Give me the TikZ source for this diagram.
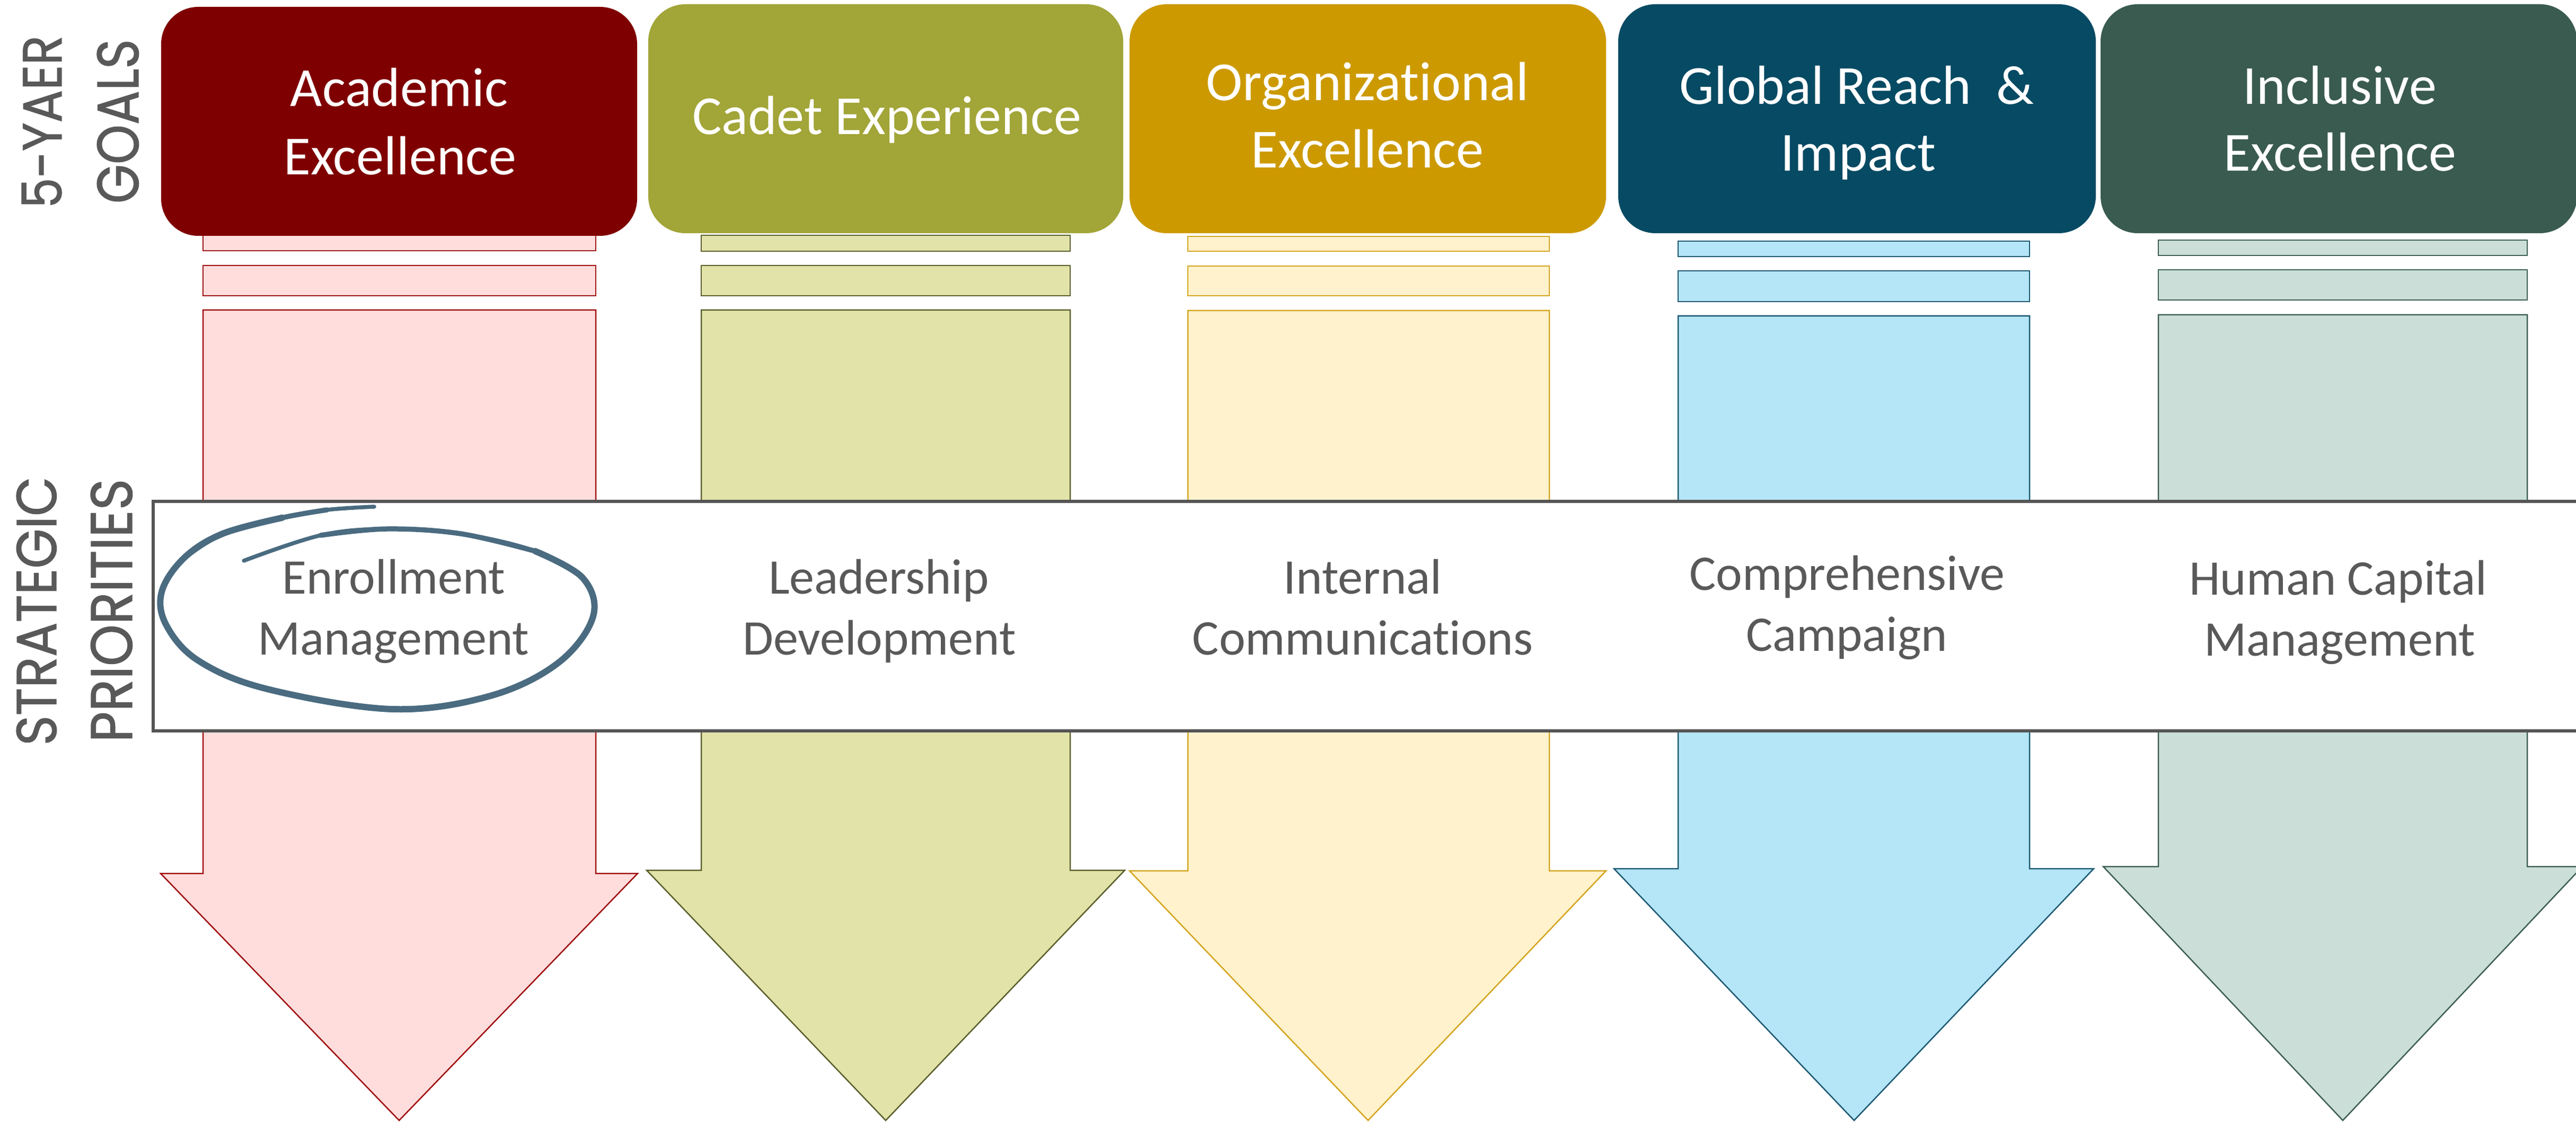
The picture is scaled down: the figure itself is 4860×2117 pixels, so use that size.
\documentclass[tikz,border=0pt]{standalone}
\usepackage{fontspec}
\usepackage{graphicx}
\setmainfont{Carlito}[Ligatures=NoCommon]
\newfontfamily\gothic[FakeBold=1.2]{Poppins}
\definecolor{txtgray}{HTML}{595959}
\definecolor{frame}{HTML}{555555}
\definecolor{swooshc}{HTML}{4A6B80}
\definecolor{gA}{HTML}{7F0000}
\definecolor{gB}{HTML}{A2A537}
\definecolor{gC}{HTML}{CC9A00}
\definecolor{gD}{HTML}{074A63}
\definecolor{gE}{HTML}{3A5B4F}
\definecolor{fA}{HTML}{FFDDDD}
\definecolor{dA}{HTML}{A01010}
\definecolor{fB}{HTML}{E1E3A9}
\definecolor{dB}{HTML}{5B5F2B}
\definecolor{fC}{HTML}{FFF2CC}
\definecolor{dC}{HTML}{D4A520}
\definecolor{fD}{HTML}{B4E6F7}
\definecolor{dD}{HTML}{1E5A73}
\definecolor{fE}{HTML}{CBDED8}
\definecolor{dE}{HTML}{3E5F55}
\begin{document}
\begin{tikzpicture}[x=0.2pt,y=-0.2pt,
  goalbox/.style={rounded corners=14pt, draw=none},
  arrA/.style={fill=fA, draw=dA, line width=0.5pt},
  arrB/.style={fill=fB, draw=dB, line width=0.5pt},
  arrC/.style={fill=fC, draw=dC, line width=0.5pt},
  arrD/.style={fill=fD, draw=dD, line width=0.5pt},
  arrE/.style={fill=fE, draw=dE, line width=0.5pt},
  goaltext/.style={text=white, font=\fontsize{20.8}{25}\selectfont, anchor=base, inner sep=0pt},
  priotext/.style={text=txtgray, font=\fontsize{18.8}{23}\selectfont, anchor=base, inner sep=0pt},
  sidelabel/.style={text=txtgray, rotate=90, anchor=base, inner sep=0pt},
  swoosh/.style={draw=swooshc, line cap=round, line join=round}
]
\useasboundingbox (0,0) rectangle (4860,2117);
\clip (0,0) rectangle (4860,2117);

% column 1 arrow
\path[arrA] (383,441) rectangle (1124,473);
\path[arrA] (383,501) rectangle (1124,558);
\path[arrA] (383,585) -- (1124,585) -- (1124,1648) -- (1203,1648) -- (753,2114) -- (303,1648) -- (383,1648) -- cycle;
% column 2 arrow
\path[arrB] (1323,444) rectangle (2019,474);
\path[arrB] (1323,501) rectangle (2019,558);
\path[arrB] (1323,585) -- (2019,585) -- (2019,1642) -- (2122,1642) -- (1671,2114) -- (1220,1642) -- (1323,1642) -- cycle;
% column 3 arrow
\path[arrC] (2241,446) rectangle (2923,474);
\path[arrC] (2241,502) rectangle (2923,558);
\path[arrC] (2241,586) -- (2923,586) -- (2923,1643) -- (3030,1643) -- (2581,2114) -- (2131,1643) -- (2241,1643) -- cycle;
% column 4 arrow
\path[arrD] (3166,455) rectangle (3829,484);
\path[arrD] (3166,511) rectangle (3829,569);
\path[arrD] (3166,596) -- (3829,596) -- (3829,1639) -- (3950,1639) -- (3498,2114) -- (3045,1639) -- (3166,1639) -- cycle;
% column 5 arrow
\path[arrE] (4072,453) rectangle (4768,482);
\path[arrE] (4072,509) rectangle (4768,566);
\path[arrE] (4072,594) -- (4768,594) -- (4768,1635) -- (4872,1635) -- (4420,2114) -- (3968,1635) -- (4072,1635) -- cycle;

% goal boxes
\path[goalbox, fill=gA] (304,13) rectangle (1202,445);
\path[goalbox, fill=gB] (1223,8) rectangle (2119,440);
\path[goalbox, fill=gC] (2131,8) rectangle (3030,440);
\path[goalbox, fill=gD] (3053,8) rectangle (3954,440);
\path[goalbox, fill=gE] (3963,8) rectangle (4862,440);

% goal texts
\node[goaltext] (g1a) at (753,201) {Academic};
\node[goaltext] (g1b) at (755,330) {Excellence};
\node[goaltext] (g2)  at (1673,254) {Cadet Experience};
\node[goaltext] (g3a) at (2580,190) {Organizational};
\node[goaltext] (g3b) at (2580,317) {Excellence};
\node[goaltext] (g4a) at (3503,197) {Global Reach\ \ \&};
\node[goaltext] (g4b) at (3506,323) {Impact};
\node[goaltext] (g5a) at (4414,197) {Inclusive};
\node[goaltext] (g5b) at (4415,323) {Excellence};

% strategic priorities band
\draw[line width=1.2pt, draw=frame, fill=white] (289,946) rectangle (4920,1379);

% priority texts
\node[priotext] (p1a) at (743,1120) {Enrollment};
\node[priotext] (p1b) at (742,1235) {Management};
\node[priotext] (p2a) at (1658,1120) {Leadership};
\node[priotext] (p2b) at (1659,1235) {Development};
\node[priotext] (p3a) at (2571,1120) {Internal};
\node[priotext] (p3b) at (2571,1235) {Communications};
\node[priotext] (p4a) at (3485,1113) {Comprehensive};
\node[priotext] (p4b) at (3484,1228) {Campaign};
\node[priotext] (p5a) at (4411,1122) {Human Capital};
\node[priotext] (p5b) at (4414,1237) {Management};

% side labels
\node[sidelabel] (yaer)  at (116,230)  {\resizebox{65.2pt}{15pt}{\gothic 5-YAER}};
\node[sidelabel] (goals) at (261,229)  {\resizebox{62pt}{15.6pt}{\gothic GOALS}};
\node[sidelabel] (strat) at (106,1153) {\resizebox{101.4pt}{15pt}{\gothic STRATEGIC}};
\node[sidelabel] (prio)  at (249,1152) {\resizebox{99.4pt}{15.6pt}{\gothic PRIORITIES}};

% hand-drawn circle around Enrollment Management
\draw[swoosh, line width=1.5pt] plot[smooth, tension=0.6] coordinates {
 (706,956) (617,962) (532,977) (420,1007) (347,1053) (305,1117) (314,1180)
 (375,1247) (504,1300) (740,1338) (925,1313) (1054,1250) (1119,1163)
 (1099,1090) (1010,1040) (869,1007) (729,998) (605,1010) (460,1058)};
\draw[swoosh, line width=2.4pt] plot[smooth, tension=0.6] coordinates {
 (532,977) (420,1007) (347,1053) (305,1117) (314,1180)
 (375,1247) (504,1300) (740,1338) (925,1313) (1054,1250) (1119,1163)
 (1099,1090) (1010,1040)};
\draw[swoosh, line width=1.9pt] plot[smooth, tension=0.6] coordinates {
 (617,962) (532,977) (420,1007) (347,1053)};
\draw[swoosh, line width=1.9pt] plot[smooth, tension=0.6] coordinates {
 (1010,1040) (869,1007) (729,998) (605,1010)};
\end{tikzpicture}
\end{document}
